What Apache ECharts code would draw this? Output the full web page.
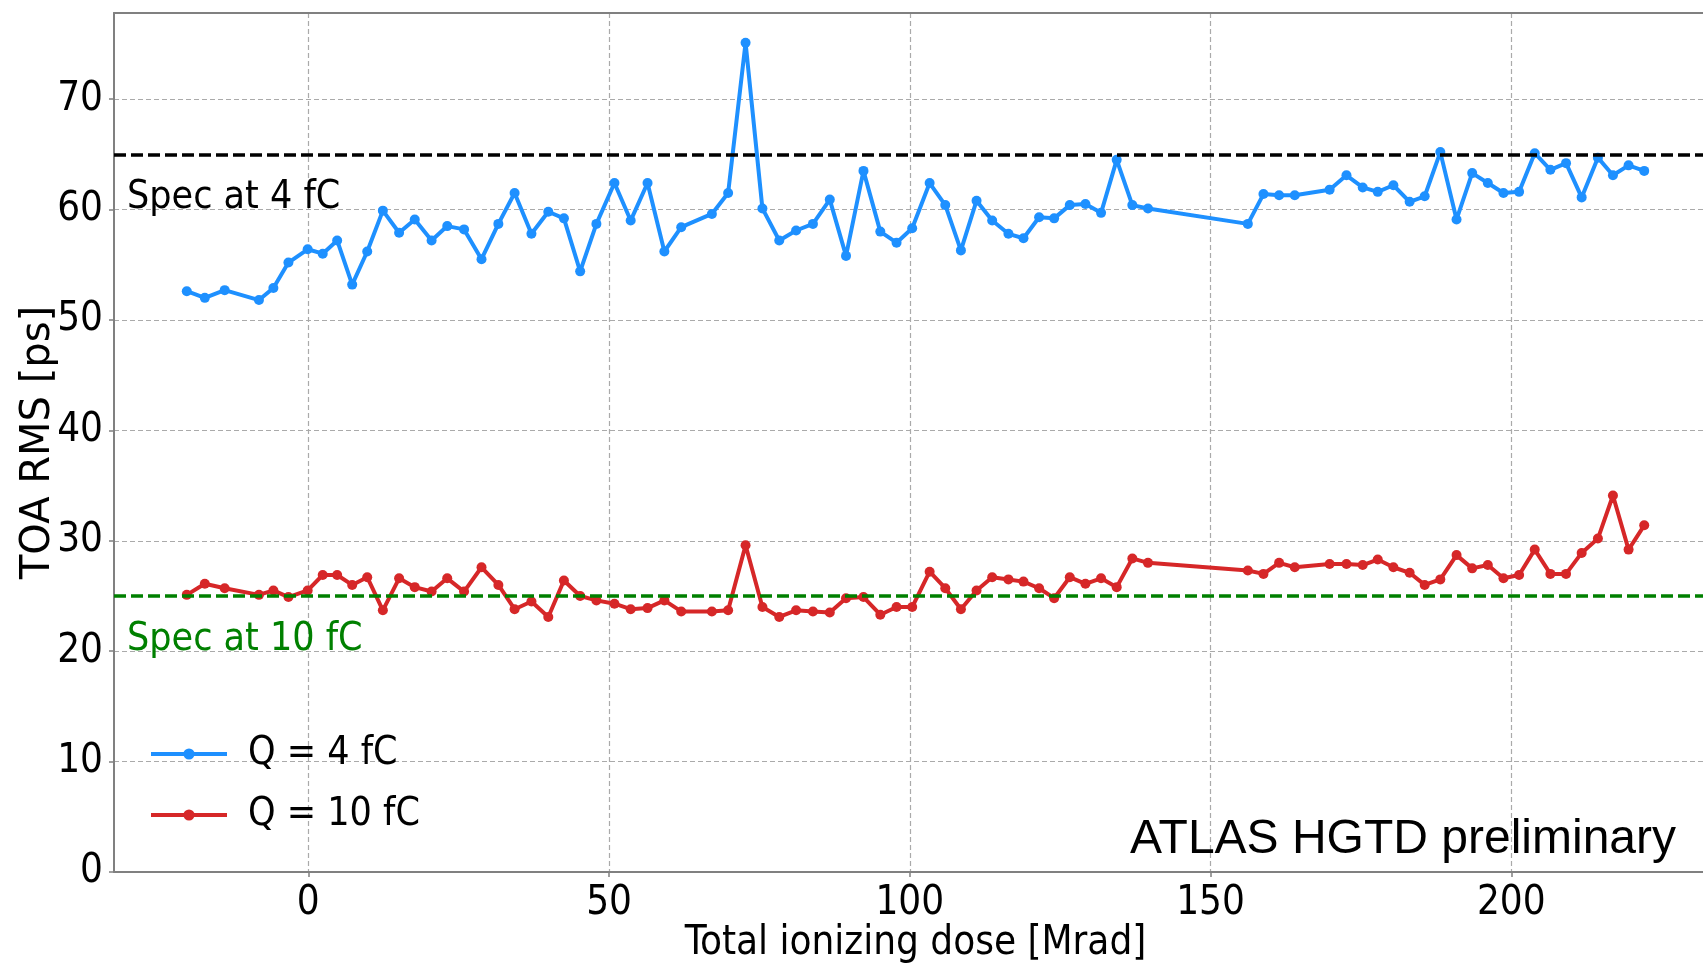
<!DOCTYPE html>
<html><head><meta charset="utf-8">
<script src="https://cdn.jsdelivr.net/npm/echarts@6/dist/echarts.min.js"></script>
<style>html,body{margin:0;padding:0;background:#fff;} #c{width:1703px;height:964px;}</style>
</head><body><div id="c"></div>
<script>
// ---- data ----
const dose = [
  -20.2, -17.2, -13.9, -8.2, -5.8, -3.3, -0.1, 2.4, 4.8, 7.3, 9.8, 12.4, 15.1, 17.7, 20.5, 23.1, 25.9, 28.8, 31.6, 34.3, 37.1, 39.9, 42.5, 45.2, 47.9,
  50.9, 53.6, 56.4, 59.2, 62.0, 67.1, 69.8, 72.7, 75.5, 78.3, 81.1, 83.9, 86.7, 89.4, 92.3, 95.1, 97.8, 100.4, 103.3, 105.9, 108.5, 111.1, 113.7, 116.4, 118.9, 121.5, 124.0, 126.6, 129.2, 131.8, 134.4, 137.0, 139.6,
  156.2, 158.8, 161.4, 164.0, 169.8, 172.6, 175.3, 177.8, 180.4, 183.1, 185.6, 188.2, 190.9, 193.5, 196.1, 198.7, 201.3, 203.9, 206.5, 209.1, 211.7, 214.4, 216.9, 219.5, 222.1
];
const toa4fC = [
  52.6, 52.0, 52.7, 51.8, 52.9, 55.2, 56.4, 56.0, 57.2, 53.2, 56.2, 59.9, 57.9, 59.1, 57.2, 58.5, 58.2, 55.5, 58.7, 61.5, 57.8, 59.8, 59.2, 54.4, 58.7,
  62.4, 59.0, 62.4, 56.2, 58.4, 59.6, 61.5, 75.1, 60.1, 57.2, 58.1, 58.7, 60.9, 55.8, 63.5, 58.0, 57.0, 58.3, 62.4, 60.4, 56.3, 60.8, 59.0, 57.8, 57.4, 59.3, 59.2, 60.4, 60.5, 59.7, 64.5, 60.4, 60.1,
  58.7, 61.4, 61.3, 61.3, 61.8, 63.1, 62.0, 61.6, 62.2, 60.7, 61.2, 65.2, 59.1, 63.3, 62.4, 61.5, 61.6, 65.1, 63.6, 64.2, 61.1, 64.7, 63.1, 64.0, 63.5
];
const toa10fC = [
  25.1, 26.1, 25.7, 25.1, 25.5, 24.9, 25.5, 26.9, 26.9, 26.0, 26.7, 23.7, 26.6, 25.8, 25.4, 26.6, 25.4, 27.6, 26.0, 23.8, 24.5, 23.1, 26.4, 25.0, 24.6,
  24.3, 23.8, 23.9, 24.6, 23.6, 23.6, 23.7, 29.6, 24.0, 23.1, 23.7, 23.6, 23.5, 24.8, 24.9, 23.3, 24.0, 24.0, 27.2, 25.7, 23.8, 25.5, 26.7, 26.5, 26.3, 25.7, 24.8, 26.7, 26.1, 26.6, 25.8, 28.4, 28.0,
  27.3, 27.0, 28.0, 27.6, 27.9, 27.9, 27.8, 28.3, 27.6, 27.1, 26.0, 26.5, 28.7, 27.5, 27.8, 26.6, 26.9, 29.2, 27.0, 27.0, 28.9, 30.2, 34.1, 29.2, 31.4
];
const xTicks = [0, 50, 100, 150, 200];
const yTicks = [0, 10, 20, 30, 40, 50, 60, 70];
const specValues = [65, 25];
const specLabels = ['Spec at 4 fC', 'Spec at 10 fC'];
const seriesNames = ['Q = 4 fC', 'Q = 10 fC'];
const xTitle = 'Total ionizing dose [Mrad]';
const yTitle = 'TOA RMS [ps]';
const tagText = 'ATLAS HGTD preliminary';

// ---- styling ----
const COND = '"DejaVu Sans Condensed", "DejaVu Sans", sans-serif';
const BLUE = '#1e90ff', RED = '#d62728', GREEN = '#008000';
const X_MIN = -32.3, X_MAX = 234.2;

const pairs = (xs, ys) => xs.map((x, i) => [x, ys[i]]);

const chart = echarts.init(document.getElementById('c'), null, {renderer: 'canvas'});
chart.setOption({
  animation: false,
  backgroundColor: '#fff',
  grid: {left: 114, top: 13, right: -14, bottom: 92, show: false, containLabel: false, outerBoundsMode: 'none'},
  xAxis: [{
    type: 'value', min: X_MIN, max: X_MAX, position: 'bottom',
    name: xTitle, nameLocation: 'middle', nameGap: 52, nameMoveOverlap: false,
    nameTextStyle: {fontSize: 40, fontFamily: COND, color: '#000'},
    axisLine: {show: true, onZero: false, lineStyle: {color: '#808080', width: 2}},
    axisTick: {show: true, inside: false, length: 5, customValues: xTicks, lineStyle: {color: '#808080', width: 1.5}},
    axisLabel: {customValues: xTicks, fontSize: 40, fontFamily: COND, color: '#000', margin: 12},
    splitLine: {show: true, lineStyle: {color: '#aaaaaa', type: [5, 3], width: 1.2}}
  }, {
    type: 'value', min: X_MIN, max: X_MAX, position: 'top',
    axisLine: {show: true, onZero: false, lineStyle: {color: '#808080', width: 2}},
    axisTick: {show: false}, axisLabel: {show: false}, splitLine: {show: false}
  }],
  yAxis: {
    type: 'value', min: 0, max: 77.8,
    name: yTitle, nameLocation: 'middle', nameGap: 55, nameRotate: 90, nameMoveOverlap: false,
    nameTextStyle: {fontSize: 40, fontFamily: '"DejaVu Sans", sans-serif', color: '#000'},
    axisLine: {show: true, onZero: false, lineStyle: {color: '#808080', width: 2}},
    axisTick: {show: true, inside: false, length: 5, customValues: yTicks, lineStyle: {color: '#808080', width: 1.5}},
    axisLabel: {customValues: yTicks, fontSize: 40, fontFamily: COND, color: '#000', margin: 11},
    splitLine: {show: true, lineStyle: {color: '#aaaaaa', type: [5, 3], width: 1.2}}
  },
  legend: {
    orient: 'vertical', left: 144, top: 729,
    itemWidth: 76, itemHeight: 14, itemGap: 21,
    data: seriesNames,
    lineStyle: {width: 4},
    textStyle: {fontSize: 39, fontFamily: COND, color: '#000', lineHeight: 40, padding: [0, 0, 0, 16]}
  },
  series: [
    {
      name: seriesNames[0], type: 'line', data: pairs(dose, toa4fC),
      symbol: 'circle', symbolSize: 10, showSymbol: true,
      lineStyle: {color: BLUE, width: 4}, itemStyle: {color: BLUE},
      z: 3,
      markLine: {
        silent: true, symbol: 'none', animation: false,
        data: [{
          yAxis: specValues[0],
          lineStyle: {color: '#000', type: [12, 5], width: 3.5},
          label: {show: true, formatter: specLabels[0], position: 'insideStartBottom', color: '#000', fontSize: 39, fontFamily: COND, distance: [13, 24]}
        }]
      }
    },
    {
      name: seriesNames[1], type: 'line', data: pairs(dose, toa10fC),
      symbol: 'circle', symbolSize: 10, showSymbol: true,
      lineStyle: {color: RED, width: 4}, itemStyle: {color: RED},
      z: 3,
      markLine: {
        silent: true, symbol: 'none', animation: false,
        data: [{
          yAxis: specValues[1],
          lineStyle: {color: GREEN, type: [12, 5], width: 3.5},
          label: {show: true, formatter: specLabels[1], position: 'insideStartBottom', color: GREEN, fontSize: 39, fontFamily: COND, distance: [13, 24]}
        }]
      }
    }
  ],
  graphic: [{
    type: 'text', right: 27, top: 816, z: 100,
    style: {text: tagText, fontSize: 48, fontFamily: '"Liberation Sans", Arial, sans-serif', fill: '#000'}
  }]
});
</script>
</body></html>
